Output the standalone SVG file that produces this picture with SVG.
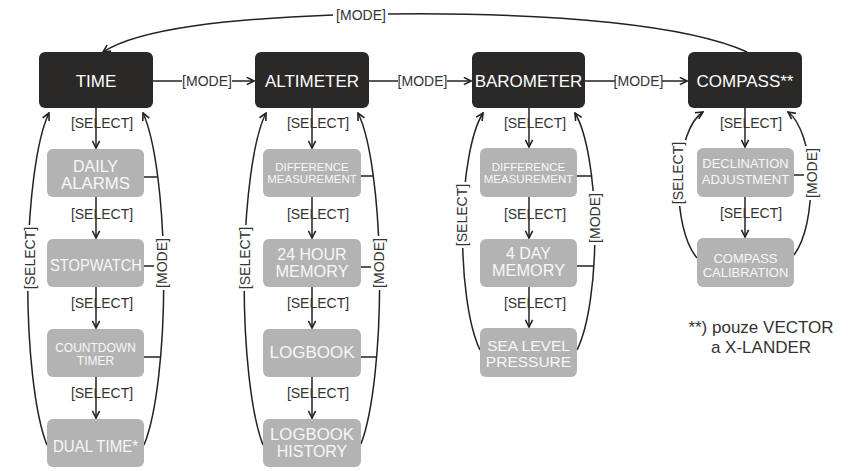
<svg xmlns="http://www.w3.org/2000/svg" width="859" height="471" viewBox="0 0 859 471">
<defs>
<marker id="ah" viewBox="0 0 10 10" refX="9" refY="5" markerWidth="9" markerHeight="9" markerUnits="userSpaceOnUse" orient="auto">
<path d="M1,1 L9,5 L1,9" fill="none" stroke="#222" stroke-width="1.8"/>
</marker>
<style>
.main rect{fill:#2b2828}
.main text{fill:#fff;font-family:"Liberation Sans",Arial,sans-serif;font-size:17px;text-anchor:middle}
.sub rect{fill:#b3b3b3}
.sub text{fill:#f7f7f7;font-family:"Liberation Sans",Arial,sans-serif;text-anchor:middle}
.ln{fill:none;stroke:#222;stroke-width:1.5}
.arr{marker-end:url(#ah)}
.lbl{fill:#333;font-family:"Liberation Sans",Arial,sans-serif;font-size:14px;text-anchor:middle}
.bg{fill:#fff}
.note{fill:#333;font-family:"Liberation Sans",Arial,sans-serif;font-size:17px;text-anchor:middle}
</style>
</defs>
<rect width="859" height="471" fill="#fff"/>

<g id="connectors">
<path class="ln" d="M388,14 C560,12 690,26 747,52"/>
<path class="ln arr" d="M333,15 C230,19 140,28 103,52"/>
<text class="lbl" x="361" y="20">[MODE]</text>
<path class="ln" d="M152,81 H182"/><path class="ln arr" d="M232,81 H254"/>
<text class="lbl" x="207" y="86">[MODE]</text>
<path class="ln" d="M369,81 H398"/><path class="ln arr" d="M447,81 H471"/>
<text class="lbl" x="422.5" y="86">[MODE]</text>
<path class="ln" d="M585,81 H615"/><path class="ln arr" d="M662,81 H687"/>
<text class="lbl" x="638.5" y="86">[MODE]</text>

<path class="ln arr" d="M96,108 V148"/><path class="ln arr" d="M96,197 V238"/><path class="ln arr" d="M96,287 V328"/><path class="ln arr" d="M96,377 V418"/>
<text class="lbl" x="102" y="128">[SELECT]</text><text class="lbl" x="102" y="219">[SELECT]</text><text class="lbl" x="102" y="308">[SELECT]</text><text class="lbl" x="102" y="398">[SELECT]</text>
<path class="ln" d="M144,177 H157 M144,266 H162 M144,357 H160"/>
<path class="ln arr" d="M47,445 A33 180 0 0 1 49,113"/>
<path class="ln arr" d="M144,445 A33 180 0 0 0 143,113"/>
<g transform="translate(30,258) rotate(-90)"><rect class="bg" x="-33" y="-8" width="66" height="16"/><text class="lbl" x="0" y="5">[SELECT]</text></g>
<g transform="translate(162,263) rotate(-90)"><rect class="bg" x="-27" y="-8" width="54" height="16"/><text class="lbl" x="0" y="5">[MODE]</text></g>

<path class="ln arr" d="M312,108 V148"/><path class="ln arr" d="M312,197 V238"/><path class="ln arr" d="M312,287 V328"/><path class="ln arr" d="M312,377 V418"/>
<text class="lbl" x="318" y="128">[SELECT]</text><text class="lbl" x="318" y="219">[SELECT]</text><text class="lbl" x="318" y="308">[SELECT]</text><text class="lbl" x="318" y="398">[SELECT]</text>
<path class="ln" d="M361,176 H374 M361,267 H378 M361,357 H376"/>
<path class="ln arr" d="M263,445 A33 180 0 0 1 266,113"/>
<path class="ln arr" d="M361,444 A33 180 0 0 0 358,113"/>
<g transform="translate(245,258) rotate(-90)"><rect class="bg" x="-33" y="-8" width="66" height="16"/><text class="lbl" x="0" y="5">[SELECT]</text></g>
<g transform="translate(379,263) rotate(-90)"><rect class="bg" x="-27" y="-8" width="54" height="16"/><text class="lbl" x="0" y="5">[MODE]</text></g>

<path class="ln arr" d="M529,108 V147"/><path class="ln arr" d="M529,197 V238"/><path class="ln arr" d="M529,287 V327"/>
<text class="lbl" x="535" y="128">[SELECT]</text><text class="lbl" x="535" y="219">[SELECT]</text><text class="lbl" x="535" y="308">[SELECT]</text>
<path class="ln" d="M577,176 H592 M577,266 H594"/>
<path class="ln arr" d="M480,350 A32 130 0 0 1 483,113"/>
<path class="ln arr" d="M577,350 A32 130 0 0 0 575,113"/>
<g transform="translate(462,215) rotate(-90)"><rect class="bg" x="-33" y="-8" width="66" height="16"/><text class="lbl" x="0" y="5">[SELECT]</text></g>
<g transform="translate(595,218) rotate(-90)"><rect class="bg" x="-27" y="-8" width="54" height="16"/><text class="lbl" x="0" y="5">[MODE]</text></g>

<path class="ln arr" d="M745,108 V147"/><path class="ln arr" d="M745,197 V237"/>
<text class="lbl" x="751" y="128">[SELECT]</text><text class="lbl" x="751" y="218">[SELECT]</text>
<path class="ln" d="M794,175 H811"/>
<path class="ln arr" d="M697,258 A32 78 0 0 1 703,112"/>
<path class="ln arr" d="M794,255 A32 78 0 0 0 788,112"/>
<g transform="translate(678,173) rotate(-90)"><rect class="bg" x="-33" y="-8" width="66" height="16"/><text class="lbl" x="0" y="5">[SELECT]</text></g>
<g transform="translate(812,173) rotate(-90)"><rect class="bg" x="-27" y="-8" width="54" height="16"/><text class="lbl" x="0" y="5">[MODE]</text></g>
</g>

<g id="time" class="main"><rect x="39" y="52" width="114" height="56" rx="6"/><text x="96" y="87">TIME</text></g>
<g id="altimeter" class="main"><rect x="255" y="52" width="114" height="56" rx="6"/><text x="312" y="87">ALTIMETER</text></g>
<g id="barometer" class="main"><rect x="472" y="52" width="113" height="56" rx="6"/><text x="528.5" y="87">BAROMETER</text></g>
<g id="compass" class="main"><rect x="688" y="52" width="114" height="56" rx="6"/><text x="745" y="87">COMPASS**</text></g>

<g id="daily-alarms" class="sub"><rect x="47" y="149" width="97" height="48" rx="6"/><text x="95.5" y="172" font-size="16">DAILY</text><text x="95.5" y="189" font-size="16" textLength="69" lengthAdjust="spacingAndGlyphs">ALARMS</text></g>
<g id="stopwatch" class="sub"><rect x="47" y="239" width="97" height="48" rx="6"/><text x="96" y="271" font-size="17" textLength="92" lengthAdjust="spacingAndGlyphs">STOPWATCH</text></g>
<g id="countdown-timer" class="sub"><rect x="47" y="329" width="97" height="48" rx="6"/><text x="95.5" y="352" font-size="12">COUNTDOWN</text><text x="95.5" y="365" font-size="12">TIMER</text></g>
<g id="dual-time" class="sub"><rect x="47" y="419" width="97" height="48" rx="6"/><text x="95.5" y="452" font-size="16" textLength="85" lengthAdjust="spacingAndGlyphs">DUAL TIME*</text></g>

<g id="alt-difference" class="sub"><rect x="263" y="149" width="98" height="48" rx="6"/><text x="312" y="171" font-size="11.5">DIFFERENCE</text><text x="312" y="183" font-size="11.5">MEASUREMENT</text></g>
<g id="hour24-memory" class="sub"><rect x="263" y="239" width="98" height="48" rx="6"/><text x="312" y="260" font-size="16">24 HOUR</text><text x="312" y="277" font-size="16" textLength="73" lengthAdjust="spacingAndGlyphs">MEMORY</text></g>
<g id="logbook" class="sub"><rect x="263" y="329" width="98" height="48" rx="6"/><text x="312" y="358" font-size="17">LOGBOOK</text></g>
<g id="logbook-history" class="sub"><rect x="263" y="419" width="98" height="48" rx="6"/><text x="312" y="440" font-size="16" textLength="84" lengthAdjust="spacingAndGlyphs">LOGBOOK</text><text x="312" y="457" font-size="16">HISTORY</text></g>

<g id="baro-difference" class="sub"><rect x="480" y="148" width="97" height="49" rx="6"/><text x="528.5" y="171" font-size="11.5">DIFFERENCE</text><text x="528.5" y="183" font-size="11.5">MEASUREMENT</text></g>
<g id="day4-memory" class="sub"><rect x="480" y="239" width="97" height="48" rx="6"/><text x="528.5" y="259" font-size="16">4 DAY</text><text x="528.5" y="276" font-size="16" textLength="73" lengthAdjust="spacingAndGlyphs">MEMORY</text></g>
<g id="sea-level" class="sub"><rect x="480" y="328" width="97" height="49" rx="6"/><text x="528.5" y="351" font-size="15.5">SEA LEVEL</text><text x="528.5" y="367" font-size="15.5">PRESSURE</text></g>

<g id="declination" class="sub"><rect x="697" y="148" width="97" height="49" rx="6"/><text x="745.5" y="168" font-size="13">DECLINATION</text><text x="745.5" y="184" font-size="13">ADJUSTMENT</text></g>
<g id="calibration" class="sub"><rect x="697" y="238" width="97" height="49" rx="6"/><text x="745.5" y="263" font-size="13">COMPASS</text><text x="745.5" y="277" font-size="13">CALIBRATION</text></g>

<g id="footnote"><text class="note" x="761" y="333">**) pouze VECTOR</text><text class="note" x="761" y="353">a X-LANDER</text></g>
</svg>
